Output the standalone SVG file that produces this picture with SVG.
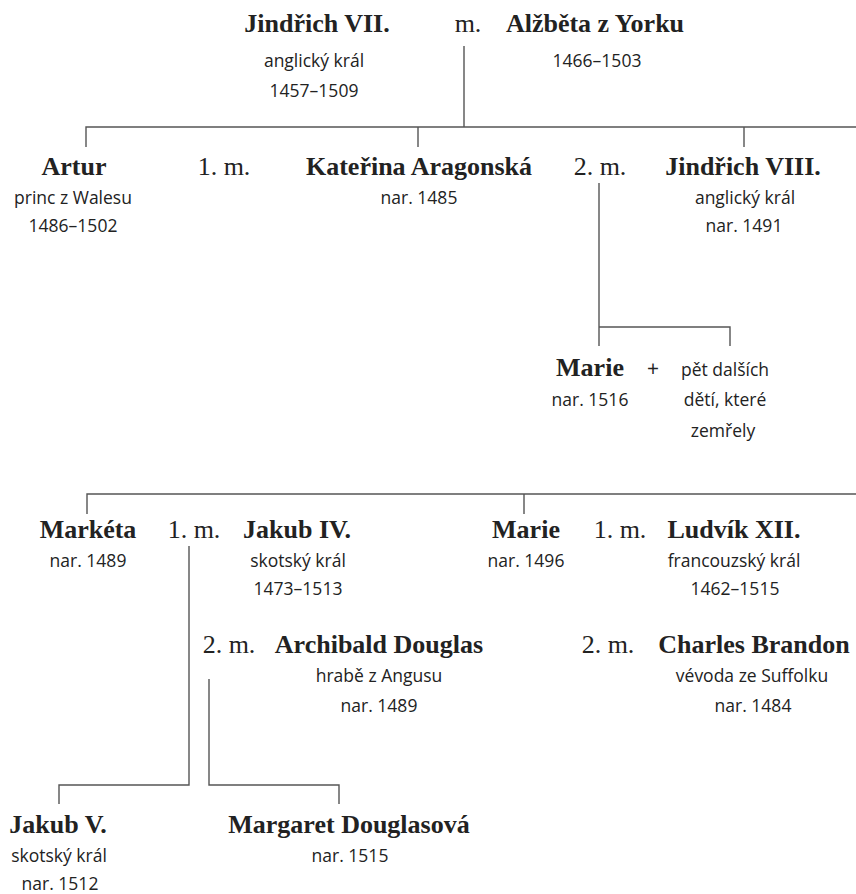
<svg xmlns="http://www.w3.org/2000/svg" width="856" height="894" viewBox="0 0 856 894">
<style>
.n{font-family:"Liberation Serif",serif;font-weight:bold;font-size:26px;fill:#222;text-anchor:middle}
.m{font-family:"Liberation Serif",serif;font-size:26px;fill:#222;text-anchor:middle}
.s{font-family:"Open Sans","Liberation Sans",sans-serif;font-size:17.5px;fill:#222;text-anchor:middle}
.c{fill:none;stroke:#555;stroke-width:1.4}
</style>
<rect width="856" height="894" fill="#fff"/>
<g id="connectors" class="c">
<path d="M464 46V127M86 147V127H856M418 127V147M744 127V147"/>
<path d="M599 183V346M599 327H730V346"/>
<path d="M87 514V494H856M524 494V514"/>
<path d="M189 546V785H59V804"/>
<path d="M209 679V785H339V804"/>
</g>
<g id="henry7"><text class="n" x="317" y="32">Jindřich VII.</text><text class="s" x="314" y="67">anglický král</text><text class="s" x="314" y="97">1457–1509</text></g>
<text class="m" x="468" y="32">m.</text>
<g id="elizabeth"><text class="n" x="595" y="32">Alžběta z Yorku</text><text class="s" x="597" y="67">1466–1503</text></g>
<g id="artur"><text class="n" x="74" y="175">Artur</text><text class="s" x="73" y="204">princ z Walesu</text><text class="s" x="73" y="232">1486–1502</text></g>
<text class="m" x="224" y="175">1. m.</text>
<g id="katerina"><text class="n" x="419" y="175">Kateřina Aragonská</text><text class="s" x="419" y="204">nar. 1485</text></g>
<text class="m" x="600" y="175">2. m.</text>
<g id="henry8"><text class="n" x="743" y="175">Jindřich VIII.</text><text class="s" x="745" y="204">anglický král</text><text class="s" x="744" y="232">nar. 1491</text></g>
<g id="marie1516"><text class="n" x="590" y="376">Marie</text><text class="s" x="590" y="406">nar. 1516</text></g>
<text class="s" x="653" y="376" style="font-size:21px">+</text>
<g id="others"><text class="s" x="725" y="376">pět dalších</text><text class="s" x="725" y="406">dětí, které</text><text class="s" x="723" y="437">zemřely</text></g>
<g id="marketa"><text class="n" x="88" y="538">Markéta</text><text class="s" x="88" y="567">nar. 1489</text></g>
<text class="m" x="194" y="538">1. m.</text>
<g id="jakub4"><text class="n" x="297" y="538">Jakub IV.</text><text class="s" x="298" y="567">skotský král</text><text class="s" x="298" y="595">1473–1513</text></g>
<g id="marie1496"><text class="n" x="526" y="538">Marie</text><text class="s" x="526" y="567">nar. 1496</text></g>
<text class="m" x="620" y="538">1. m.</text>
<g id="ludvik"><text class="n" x="734" y="538">Ludvík XII.</text><text class="s" x="734" y="567">francouzský král</text><text class="s" x="735" y="595">1462–1515</text></g>
<text class="m" x="229" y="653">2. m.</text>
<g id="archibald"><text class="n" x="379" y="653">Archibald Douglas</text><text class="s" x="379" y="682">hrabě z Angusu</text><text class="s" x="379" y="712">nar. 1489</text></g>
<text class="m" x="608" y="653">2. m.</text>
<g id="charles"><text class="n" x="754" y="653">Charles Brandon</text><text class="s" x="752" y="682">vévoda ze Suffolku</text><text class="s" x="753" y="712">nar. 1484</text></g>
<g id="jakub5"><text class="n" x="58" y="833">Jakub V.</text><text class="s" x="59" y="862">skotský král</text><text class="s" x="60" y="890">nar. 1512</text></g>
<g id="margaret"><text class="n" x="349" y="833">Margaret Douglasová</text><text class="s" x="350" y="862">nar. 1515</text></g>
</svg>
